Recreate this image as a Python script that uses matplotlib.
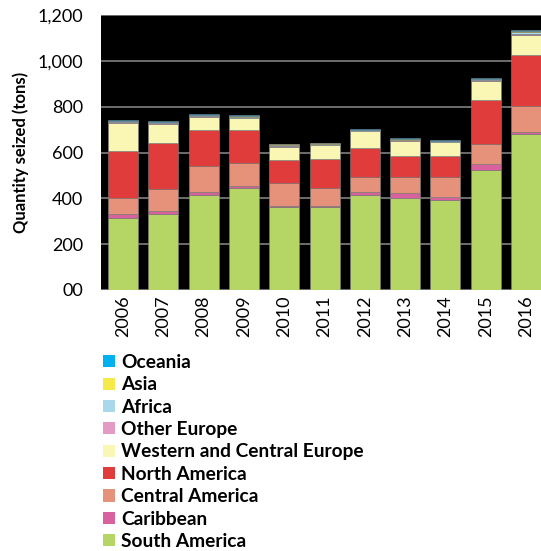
import numpy as np
import matplotlib.pyplot as plt
from matplotlib.patches import Patch

years = ["2006", "2007", "2008", "2009", "2010", "2011",
         "2012", "2013", "2014", "2015", "2016"]

south_america = [313, 330, 414, 446, 361, 361, 416, 403, 391, 522, 679]
caribbean = [17, 15, 12, 8, 7, 7, 12, 19, 13, 26, 12]
central_america = [73, 94, 115, 99, 98, 77, 65, 71, 89, 88, 112]
north_america = [203, 204, 156, 144, 100, 127, 125, 90, 90, 193, 222]
west_central_europe = [124, 80, 59, 52, 59, 59, 76, 66, 61, 83, 89]
other_europe = [3, 5, 3, 3, 3, 3, 2, 4, 2, 3, 5]
africa = [3, 4, 4, 4, 6, 5, 3, 3, 3, 5, 7]
asia = [1, 3, 1, 2, 1, 1, 1, 2, 1, 1, 4]
oceania = [3, 2, 4, 4, 3, 3, 2, 5, 4, 3, 4]

series = [
    ("South America", south_america, "#b5d565"),
    ("Caribbean", caribbean, "#d9629e"),
    ("Central America", central_america, "#e6927a"),
    ("North America", north_america, "#e03c3c"),
    ("Western and Central Europe", west_central_europe, "#faf6b4"),
    ("Other Europe", other_europe, "#e59ac4"),
    ("Africa", africa, "#a8d8ea"),
    ("Asia", asia, "#f5ea4a"),
    ("Oceania", oceania, "#00b0f0"),
]

yticks = [0, 200, 400, 600, 800, 1000, 1200]
ytick_labels = ["00", "200", "400", "600", "800", "1,000", "1,200"]

plt.rcParams["font.family"] = ["Lato", "DejaVu Sans"]

fig = plt.figure(figsize=(5.41, 5.51), dpi=100)
ax = fig.add_axes([101 / 541, 1 - 290 / 551, 440 / 541, 275 / 551])
ax.set_facecolor("black")

x = np.arange(len(years))
bottom = np.zeros(len(years))
for name, vals, color in series:
    ax.bar(x, vals, 0.745, bottom=bottom, color=color, edgecolor="#7f7f7f",
           linewidth=0.4, zorder=3)
    bottom += np.array(vals)

ax.set_xlim(-0.546, 10.37)
ax.set_ylim(0, 1200)
ax.set_yticks(yticks)
ax.set_yticklabels(ytick_labels, fontsize=13)
ax.set_xticks(x)
ax.set_xticklabels(years, rotation=90, fontsize=13)
ax.tick_params(axis="x", length=0, pad=4)
ax.tick_params(axis="y", length=0, pad=13)
ax.yaxis.grid(True, color="#808080", linewidth=1.2, zorder=1)
for side in ax.spines.values():
    side.set_visible(False)
ax.set_ylabel("Quantity seized (tons)", fontsize=12, fontweight="bold",
              labelpad=6)

handles = [Patch(facecolor=c, label=n) for n, _, c in series[::-1]]
fig.legend(handles=handles, loc="upper left",
           bbox_to_anchor=(103 / 541, 1 - 354 / 551), frameon=False,
           prop={"weight": "bold", "size": 13.8}, handlelength=0.6,
           handleheight=0.6, handletextpad=0.35, labelspacing=0.28,
           borderaxespad=0, borderpad=0)

fig.savefig("out.png", dpi=100)
